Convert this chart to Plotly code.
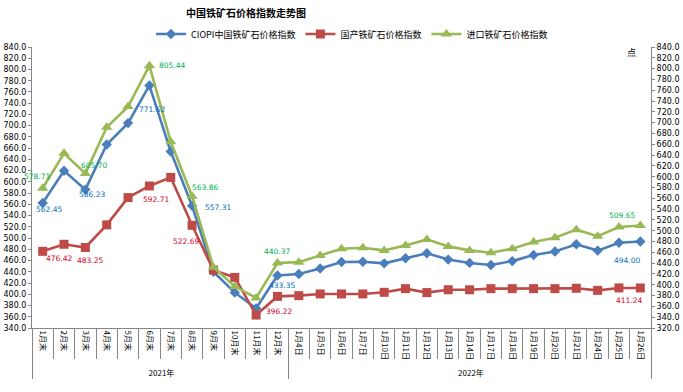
import plotly.graph_objects as go

years = ['2021年'] * 12 + ['2022年'] * 17
cats = ['1月末', '2月末', '3月末', '4月末', '5月末', '6月末', '7月末', '8月末', '9月末', '10月末',
        '11月末', '12月末', '1月4日', '1月5日', '1月6日', '1月7日', '1月10日', '1月11日', '1月12日',
        '1月13日', '1月14日', '1月17日', '1月18日', '1月19日', '1月20日', '1月21日', '1月24日',
        '1月25日', '1月26日']

ciopi = [562.45, 619.7, 586.23, 666.5, 704.6, 771.62, 654.0, 557.31, 440.0, 403.0, 375.0, 433.35,
         436.0, 446.0, 457.5, 458.0, 455.0, 464.0, 473.0, 461.7, 455.8, 452.0, 459.0, 470.0, 476.0,
         489.0, 477.7, 491.6, 494.00]
domestic = [476.42, 489.0, 483.25, 523.5, 572.0, 592.71, 608.0, 522.69, 443.0, 430.0, 363.0, 396.22,
            397.6, 400.6, 400.6, 400.6, 403.5, 410.0, 403.0, 408.0, 408.0, 410.0, 410.0, 410.0, 410.0,
            410.7, 407.0, 411.3, 411.24]
imported = [578.71, 643.2, 605.70, 691.4, 729.7, 805.44, 664.7, 563.86, 432.6, 396.7, 375.7, 440.37,
            441.9, 454.3, 466.7, 468.6, 463.6, 472.9, 484.0, 471.0, 463.6, 459.3, 466.7, 479.0, 487.2,
            502.0, 490.0, 507.0, 509.65]

names = ['CIOPI中国铁矿石价格指数', '国产铁矿石价格指数', '进口铁矿石价格指数']
label_idx = [0, 2, 5, 7, 11, 28]
# label offsets (dx right, dy down) in pixels from the point
ciopi_off = [(6, 7), (7, 5), (3, 24), (26, 2), (5, 10), (-13, 19)]
dom_off = [(16, 7), (5, 13), (7, 14), (-6, 16), (2, 15), (-11, 13)]
imp_off = [(-6, -12), (9, -8), (23, 0), (13, -9), (0, -11), (-18, -10)]

x = [years, cats]
fig = go.Figure()

specs = [
    (ciopi, names[0], '#4A7EBB', 'diamond', 8, '#0070C0', ciopi_off, 'y'),
    (domestic, names[1], '#BE4B48', 'square', 9, '#D0001C', dom_off, 'y'),
    (imported, names[2], '#98B954', 'triangle-up', 10, '#00B050', imp_off, 'y2'),
]
annotations = []
for vals, nm, col, sym, sz, tcol, offs, ax in specs:
    fig.add_trace(go.Scatter(
        x=x, y=vals, name=nm, yaxis=ax,
        mode='lines+markers',
        line=dict(color=col, width=2.6),
        marker=dict(symbol=sym, size=sz, color=col),
        cliponaxis=False,
    ))
    for k, i in enumerate(label_idx):
        dx, dy = offs[k]
        annotations.append(dict(
            x=i, y=vals[i], xref='x', yref=ax, text=f'{vals[i]:.2f}', showarrow=False,
            xshift=dx, yshift=-dy, xanchor='center', yanchor='middle',
            font=dict(family='DejaVu Sans', size=7.5, color=tcol)))

annotations.append(dict(text='点', xref='paper', yref='paper', x=(631 - 32) / 619, y=1 - 5 / 281,
                        xanchor='center', yanchor='middle',
                        showarrow=False, font=dict(size=9, family='Noto Sans CJK SC')))

axis_col = '#868686'
fig.update_layout(
    width=683, height=392,
    margin=dict(l=32, r=32, t=47, b=64, autoexpand=False),
    paper_bgcolor='white', plot_bgcolor='white',
    font=dict(family='Noto Sans CJK SC, DejaVu Sans', size=8, color='#000000'),
    title=dict(text='<b>中国铁矿石价格指数走势图</b>', x=246 / 683, xanchor='center',
               y=1 - 13 / 392, yanchor='middle', font=dict(size=10, family='Noto Sans CJK SC')),
    legend=dict(orientation='h', x=352 / 683, xanchor='center', xref='container',
                y=1 - 34 / 392, yref='container', yanchor='middle',
                font=dict(size=9, family='Noto Sans CJK SC'), itemwidth=30,
                traceorder='normal'),
    showlegend=True,
    xaxis=dict(type='multicategory', range=[-0.5, len(cats) - 0.5], autorange=False,
               showline=True, linecolor=axis_col, linewidth=1,
               ticks='outside', ticklen=30, tickcolor=axis_col, tickangle=90,
               showgrid=False, showdividers=True, dividercolor=axis_col, dividerwidth=1,
               tickfont=dict(size=8, family='Noto Sans CJK SC')),
    yaxis=dict(range=[340, 840], dtick=20, tick0=340, tickformat='.1f', showline=True,
               linecolor=axis_col, ticks='outside', ticklen=3, tickcolor=axis_col,
               showgrid=False, zeroline=False,
               tickfont=dict(size=8, family='DejaVu Sans')),
    yaxis2=dict(range=[320, 840], dtick=20, tick0=320, tickformat='.1f', showline=True,
                linecolor=axis_col, ticks='outside', ticklen=3, tickcolor=axis_col,
                showgrid=False, zeroline=False, overlaying='y', side='right',
                tickfont=dict(size=8, family='DejaVu Sans')),
    annotations=annotations,
)

fig.write_html('out.html', config={'displayModeBar': False},
               post_script="document.body.style.margin='0';document.body.style.overflow='hidden';")
